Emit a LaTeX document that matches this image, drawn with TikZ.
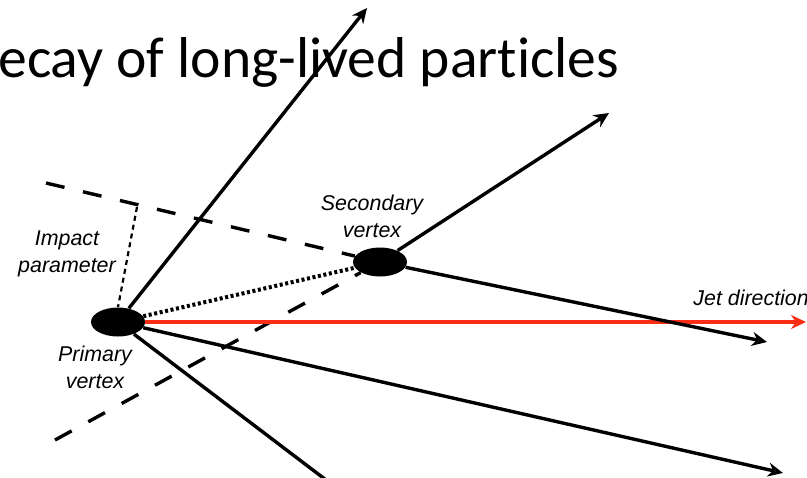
\documentclass[tikz,border=0pt]{standalone}
\usepackage{fontspec}
\setmainfont{Liberation Sans}
\newfontfamily\titlefont[Ligatures=NoCommon]{Carlito}
\usepackage{xcolor}
\usetikzlibrary{positioning,arrows.meta,shapes.geometric}
\definecolor{jetred}{RGB}{250,45,20}
\tikzset{
vertex/.style={
ellipse,
fill=black,
minimum width=27pt,
minimum height=14.5pt,
inner sep=0pt
},
track/.style={
-{Stealth[length=7.5pt,width=7pt]},
line width=1.7pt
},
seedline/.style={
line width=1.7pt,
dash pattern=on 9.5pt off 9.5pt
},
ipline/.style={
line width=1.1pt,
dash pattern=on 2.5pt off 2pt
},
flight/.style={
line width=2pt,
dash pattern=on 1.5pt off 1.3pt
},
tag/.style={
font=\fontsize{10.7}{13.5}\selectfont\itshape,
align=center,
inner sep=0pt
}
}

\begin{document}
\begin{tikzpicture}[x=0.5pt,y=-0.5pt]
\useasboundingbox (0,0) rectangle (807,477);

\node[anchor=base west,inner sep=0pt,font=\titlefont\fontsize{28.8}{34}\selectfont] (title) at (-2,77) {ecay of long-lived particles};

% vertices
\node[vertex] (pv) at (118,322) {};
\node[vertex] (sv) at (380,262) {};

% track ends
\coordinate (t1) at (367,8);
\coordinate (t2) at (609,113);
\coordinate (t3) at (767,342);
\coordinate (t4) at (783,473);
\coordinate (t5) at (330,483);
\coordinate (jet) at (806,322);
\coordinate (d1) at (46,183);
\coordinate (d2) at (55,440);
\coordinate (ipfoot) at (137,207);

% dashed lines through the secondary vertex
\draw[seedline](d1)--(sv);
\draw[seedline](d2)--(sv);
\draw[ipline](ipfoot)--(pv.north);
\draw[flight](pv)--(sv);

\draw[track,jetred,line width=1.9pt](pv)--(jet);
\draw[track](pv)--(t1);
\draw[track](pv)--(t4);
\draw[line width=1.7pt](pv)--(t5);
\draw[track](sv)--(t2);
\draw[track](sv)--(t3);

\node[tag] (svlbl) at (372,216) {Secondary\\vertex};
\node[tag] (iplbl) at (67,254) {Impact\\parameter};
\node[tag] (pvlbl) at (95,367) {Primary\\vertex};
\node[tag,anchor=west] (jetlbl) at (693,298) {Jet direction};
\end{tikzpicture}
\end{document}
